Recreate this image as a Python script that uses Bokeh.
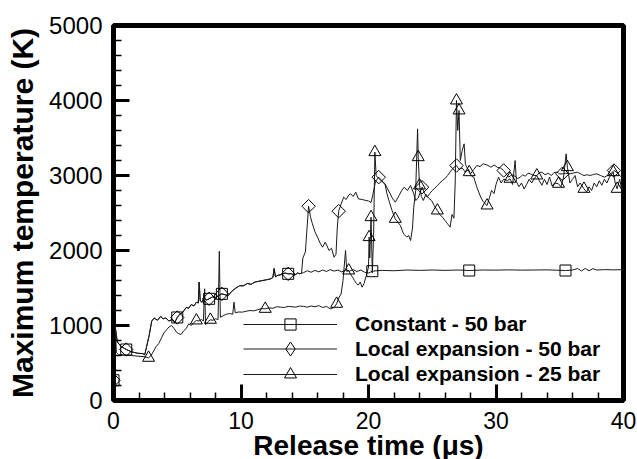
import math
from bokeh.plotting import figure
from bokeh.models import Range1d, SingleIntervalTicker, Legend, LegendItem, Title
from bokeh.embed import file_html
from bokeh.resources import INLINE

# ---------------- data ----------------
# Constant - 50 bar
c_time = [0, 0.12, 0.3, 0.6, 1.0, 1.4, 1.9, 2.3, 2.45, 2.6,
          2.8, 3.0, 3.2, 3.45, 3.7, 3.9, 4.1, 4.35, 4.6, 4.8,
          5.0, 5.2, 5.45, 5.7, 5.9, 6.1, 6.3, 6.5, 6.65, 6.72,
          6.8, 6.95, 7.1, 7.3, 7.5, 7.75, 8.0, 8.25, 8.5, 8.75,
          9.0, 9.3, 9.6, 9.9, 10.2, 10.5, 10.8, 11.1, 11.4, 11.7,
          12.0, 12.3, 12.5, 12.6, 12.7, 12.9, 13.2, 13.45, 13.7, 13.95,
          14.2, 14.45, 14.6, 14.9, 15.2, 15.5, 15.8, 16.1, 16.4, 16.7,
          17.0, 17.3, 17.6, 17.9, 18.2, 18.5, 18.8, 19.1, 19.4, 19.7,
          20.0, 20.3, 21.0, 22.0, 23.0, 24.0, 25.0, 26.0, 27.0, 27.9,
          29.0, 30.0, 31.0, 32.0, 33.0, 34.0, 35.45, 36.0, 36.4, 36.7,
          37.0, 37.3, 37.6, 37.9, 38.5, 39.2, 40.0]
c_temp = [270, 1000, 780, 720, 680, 650, 630, 625, 610, 720,
          870, 1060, 1100, 1070, 1120, 1090, 1100, 1060, 1080, 1040,
          1107, 1150, 1180, 1240, 1230, 1280, 1260, 1310, 1300, 1580,
          1330, 1310, 1370, 1340, 1356, 1380, 1370, 1400, 1422, 1410,
          1400, 1460, 1500, 1530, 1530, 1560, 1550, 1580, 1590, 1600,
          1610, 1620, 1640, 1760, 1650, 1670, 1680, 1700, 1689, 1690,
          1670, 1700, 1690, 1705, 1730, 1710, 1735, 1715, 1740, 1720,
          1745, 1725, 1740, 1715, 1740, 1725, 1745, 1720, 1740, 1710,
          1700, 1724, 1735, 1730, 1740, 1735, 1740, 1735, 1740, 1733,
          1740, 1738, 1742, 1738, 1740, 1742, 1733, 1740, 1760, 1728,
          1760, 1730, 1758, 1740, 1745, 1742, 1745]

# Local expansion - 50 bar
d_time = [0, 0.12, 0.3, 0.6, 1.0, 1.4, 1.9, 2.3, 2.45, 2.6,
          2.8, 3.0, 3.2, 3.45, 3.7, 3.9, 4.1, 4.35, 4.6, 4.8,
          5.0, 5.2, 5.45, 5.7, 5.9, 6.1, 6.3, 6.5, 6.65, 6.72,
          6.8, 6.95, 7.1, 7.3, 7.5, 7.75, 8.0, 8.25, 8.5, 8.75,
          9.0, 9.3, 9.6, 9.9, 10.2, 10.5, 10.8, 11.1, 11.4, 11.7,
          12.0, 12.3, 12.5, 12.6, 12.7, 12.9, 13.2, 13.45, 13.7, 13.95,
          14.2, 14.45, 14.6,
          14.75, 14.85, 15.05, 15.3, 15.45, 15.6, 15.8, 16.0, 16.2, 16.4,
          16.6, 16.75, 16.9, 17.1, 17.3, 17.45, 17.55, 17.66, 17.85, 18.05,
          18.25, 18.45, 18.6, 18.8, 19.0, 19.2, 19.5, 19.8, 20.0, 20.2,
          20.35, 20.55, 20.8, 21.05, 21.3, 21.5, 21.7, 21.9, 22.1, 22.4,
          22.6, 22.8, 23.05, 23.3, 23.55, 23.7, 23.9, 24.2, 24.4, 24.6,
          24.8, 25.0, 25.2, 25.4, 25.6, 25.8, 26.0, 26.2, 26.45, 26.7,
          26.9, 27.1, 27.35, 27.6, 27.85, 28.0, 28.25, 28.5, 28.75, 29.0,
          29.3, 29.6, 29.85, 30.1, 30.35, 30.6, 30.8, 31.0, 31.25, 31.5,
          31.7, 31.9, 32.1, 32.3, 32.5, 32.7, 32.95, 33.2, 33.4, 33.6,
          33.85, 34.1, 34.35, 34.55, 34.8, 35.0, 35.2, 35.45, 35.8, 36.1,
          36.4, 36.7, 36.9, 37.15, 37.4, 37.65, 37.9, 38.2, 38.5, 38.75,
          39.0, 39.25, 39.5, 39.75, 40.0]
d_temp = [270, 1000, 780, 720, 680, 650, 630, 625, 610, 720,
          870, 1060, 1100, 1070, 1120, 1090, 1100, 1060, 1080, 1040,
          1107, 1150, 1180, 1240, 1230, 1280, 1260, 1310, 1300, 1580,
          1330, 1310, 1370, 1340, 1356, 1380, 1370, 1400, 1422, 1410,
          1400, 1460, 1500, 1530, 1530, 1560, 1550, 1580, 1590, 1600,
          1610, 1620, 1640, 1760, 1650, 1670, 1680, 1700, 1689, 1690,
          1670, 1700, 1690,
          1700, 1900, 1980, 2591, 2450, 2356, 2250, 2178, 2100, 2044,
          2111, 2060, 2000, 2030, 1911, 1950, 2300, 2524, 2620, 2711,
          2680, 2740, 2756, 2720, 2778, 2689, 2680, 2667, 2660, 2640,
          2750, 2920, 2978, 2930, 2889, 2820, 2756, 2690, 2644, 2733,
          2800, 2844, 2800, 2867, 2756, 2667, 2700, 2844, 2760, 2711,
          2760, 2800, 2830, 2867, 2900, 2933, 2960, 3000, 3060, 3111,
          3133, 3080, 3100, 3044, 3080, 3022, 3080, 3133, 3120, 3156,
          3140, 3111, 3140, 3110, 3100, 3067, 3020, 2978, 3010, 2990,
          2960, 2978, 3010, 2990, 3030, 3022, 3000, 3000, 3040, 3044,
          3010, 3030, 3000, 3040, 3044, 3020, 3022, 3030, 3022, 3035,
          3044, 3015, 3000, 3010, 3000, 3015, 3022, 3000, 2978, 3000,
          3022, 3067, 3040, 2990, 2978]

# Local expansion - 25 bar
t_time = [0, 0.08, 0.15, 0.22, 0.4, 0.8, 1.4, 2.0, 2.4, 2.75,
          2.95, 3.15, 3.35, 3.55, 3.75, 3.95, 4.15, 4.35, 4.55, 4.75,
          4.95, 5.1, 5.3, 5.5, 5.7, 5.9, 6.1, 6.3, 6.5, 6.7,
          6.9, 7.05, 7.15, 7.22, 7.4, 7.6, 7.8, 8.0, 8.2, 8.3,
          8.38, 8.6, 8.85, 9.1, 9.35, 9.45, 9.55, 9.8, 10.1, 10.4,
          10.7, 11.0, 11.3, 11.6, 11.9, 12.2, 12.5, 12.8, 13.1, 13.4,
          13.7, 14.0, 14.3, 14.6, 14.9, 15.2, 15.5, 15.8, 16.1, 16.4,
          16.7, 17.0, 17.3, 17.5, 17.7, 17.85, 18.0, 18.2, 18.3, 18.45,
          18.6, 18.75, 18.9, 19.05, 19.2, 19.35, 19.5, 19.65, 19.8, 20.0,
          20.05, 20.1, 20.2, 20.3, 20.4, 20.5, 20.6, 20.7, 21.0, 21.3,
          21.45, 21.65, 21.85, 22.1, 22.3, 22.5, 22.75, 23.0, 23.15, 23.3,
          23.45, 23.55, 23.7, 23.85, 23.9, 24.0, 24.15, 24.3, 24.5, 24.7,
          24.95, 25.15, 25.4, 25.6, 25.8, 26.0, 26.2, 26.4, 26.55, 26.7,
          26.8, 26.9, 27.0, 27.1, 27.2, 27.35, 27.5, 27.6, 27.75, 27.9,
          28.1, 28.25, 28.5, 28.8, 29.0, 29.3, 29.5, 29.65, 29.85, 30.0,
          30.2, 30.4, 30.6, 30.9, 31.1, 31.3, 31.5, 31.6, 31.8, 32.0,
          32.2, 32.4, 32.6, 32.8, 33.0, 33.2, 33.4, 33.6, 33.8, 34.0,
          34.2, 34.4, 34.6, 34.9, 35.1, 35.3, 35.5, 35.6, 35.8, 36.0,
          36.2, 36.4, 36.6, 36.9, 37.1, 37.3, 37.5, 37.7, 37.9, 38.1,
          38.3, 38.5, 38.7, 38.9, 39.2, 39.35, 39.5, 39.7, 39.85, 40.0]
t_temp = [270, 900, 1000, 640, 610, 605, 600, 590, 585, 569,
          600, 660, 720, 760, 830, 900, 940, 980, 1000, 960,
          910, 893, 880, 930, 960, 1022, 1000, 1040, 1067, 1060,
          1080, 1060, 1490, 1010, 1050, 1076, 1070, 1090, 1080, 1990,
          1110, 1130, 1150, 1160, 1150, 1311, 1170, 1180, 1178, 1190,
          1200, 1195, 1210, 1225, 1222, 1235, 1230, 1250, 1245, 1240,
          1255, 1250, 1245, 1260, 1255, 1244, 1260, 1250, 1265, 1240,
          1255, 1222, 1240, 1289, 1380, 1420, 1600, 2000, 1720, 1733,
          1680, 1644, 1600, 1560, 1540, 1580, 1511, 1560, 1650, 1778,
          2178, 1900, 2444, 1700, 2200, 3311, 3000, 2978, 2930, 2880,
          2756, 2640, 2533, 2422, 2380, 2333, 2222, 2178, 2200, 2133,
          2300, 2578, 2800, 3622, 3244, 2867, 2720, 2667, 2750, 2700,
          2667, 2600, 2533, 2480, 2444, 2400, 2356, 2311, 2480, 2430,
          2900, 4000, 3600, 3867, 3200, 3333, 3422, 3150, 3100, 3044,
          2990, 2978, 2844, 2711, 2650, 2600, 2711, 2800, 2760, 2880,
          2978, 2900, 2950, 2933, 2956, 2880, 3200, 2920, 2850, 2900,
          2820, 2880, 2950, 2900, 2960, 3000, 2930, 2870, 2950, 2880,
          2980, 2860, 2900, 2889, 2850, 2980, 3289, 3111, 2900, 2950,
          3000, 2850, 2900, 2822, 2780, 2850, 2800, 2900, 2850, 2930,
          2870, 2950, 2900, 2980, 3044, 2900, 2822, 2950, 2822, 2840]

# symbol positions
sq_time = [0, 1.0, 5.0, 7.5, 8.5, 13.7, 20.3, 27.9, 35.45]
sq_temp = [270, 680, 1107, 1356, 1422, 1689, 1724, 1733, 1733]
dm_time = [0, 1.0, 5.0, 7.5, 8.5, 13.7, 15.3, 17.66, 20.8, 24.2, 26.9, 30.6, 35.2, 39.25]
dm_temp = [270, 680, 1107, 1356, 1422, 1689, 2591, 2524, 2978, 2844, 3133, 3067, 3022, 3067]
tr_time = [2.75, 6.5, 7.6, 11.9, 17.5, 18.45, 20.05, 20.2, 20.5, 22.1, 23.9, 24.0,
           25.4, 26.9, 27.1, 27.9, 29.3, 31.1, 33.2, 34.9, 35.6, 36.9, 39.2, 39.5]
tr_temp = [569, 1067, 1076, 1222, 1289, 1733, 2178, 2444, 3311, 2422, 3244, 2867,
           2533, 4000, 3867, 3044, 2600, 2956, 3000, 2889, 3111, 2822, 3044, 2822]

series_labels = ["Constant - 50 bar", "Local expansion - 50 bar", "Local expansion - 25 bar"]
x_title = "Release time (\u03bcs)"
y_title = "Maximum temperature (K)"

# ---------------- figure ----------------
FONT = "Liberation Sans"
p = figure(width=637, height=459, output_backend="svg", toolbar_location=None,
           x_range=Range1d(0, 40), y_range=Range1d(0, 5000),
           min_border_left=113, min_border_right=14, min_border_top=25, min_border_bottom=59)
p.xgrid.visible = False
p.ygrid.visible = False
p.outline_line_color = "black"
p.outline_line_width = 5
p.outline_line_alpha = 1.0
p.background_fill_color = "white"
p.border_fill_color = "white"

p.xaxis.ticker = SingleIntervalTicker(interval=10, num_minor_ticks=5)
p.yaxis.ticker = SingleIntervalTicker(interval=1000, num_minor_ticks=5)
for ax in (p.xaxis[0], p.yaxis[0]):
    ax.axis_line_width = 3
    ax.axis_line_color = "black"
    ax.major_tick_in = 16
    ax.major_tick_out = 0
    ax.minor_tick_in = 8
    ax.minor_tick_out = 0
    ax.major_tick_line_width = 3
    ax.minor_tick_line_width = 1.5
    ax.major_tick_line_color = "black"
    ax.minor_tick_line_color = "black"
    ax.major_label_text_font = FONT
    ax.major_label_text_color = "black"
    ax.axis_label_text_font = FONT
    ax.axis_label_text_font_style = "bold"
    ax.axis_label_text_color = "black"

p.xaxis[0].major_label_text_font_size = "23px"
p.xaxis[0].major_label_standoff = 11

# x-axis title as a title below the axis; its negative standoff keeps the
# bottom panel small enough that the frame keeps its full height
p.add_layout(Title(text=x_title, align="center", text_font=FONT,
                   text_font_style="bold", text_font_size="28px",
                   text_color="black", standoff=-8), "below")

p.yaxis[0].axis_label = y_title
p.yaxis[0].major_label_text_font_size = "24px"
p.yaxis[0].axis_label_text_font_size = "30px"
p.yaxis[0].major_label_standoff = 11
p.yaxis[0].axis_label_standoff = 7

line_kw = dict(line_color="#1a1a1a", line_width=1)
mk_kw = dict(line_color="black", fill_color=None, line_width=1)

rc = p.line(c_time, c_temp, **line_kw)
rd = p.line(d_time, d_temp, **line_kw)
rt = p.line(t_time, t_temp, **line_kw)
rcs = p.scatter(sq_time, sq_temp, marker="square", size=11, **mk_kw)
rds = p.scatter(dm_time, dm_temp, marker="square", angle=math.pi / 4, size=9.5, **mk_kw)
rts = p.scatter(tr_time, tr_temp, marker="triangle", size=12, **mk_kw)
# legend swatch for the diamond symbol (legend swatches ignore marker angle)
rdl = p.scatter(x=[float("nan")], y=[float("nan")], marker="diamond", **mk_kw)

# one legend per row, so that each swatch can have its own size
# (swatch marker size = 0.4 * glyph_height; rows are 25 px apart)
rows = [([rc, rcs], 28), ([rd, rdl], 35), ([rt, rts], 30)]
row_centres_from_bottom = [76.5, 51.5, 26.5]
for (rends, gh), label, yc in zip(rows, series_labels, row_centres_from_bottom):
    lg = Legend(items=[LegendItem(label=label, renderers=rends)],
                location=(130, yc - gh / 2), orientation="vertical",
                glyph_width=94, glyph_height=gh, label_height=20, label_standoff=18,
                spacing=0, padding=0, margin=0,
                border_line_alpha=0, background_fill_alpha=0,
                label_text_font=FONT, label_text_font_style="bold",
                label_text_font_size="21px", label_text_color="black")
    p.add_layout(lg)

open("out.html", "w").write(file_html(p, INLINE))
